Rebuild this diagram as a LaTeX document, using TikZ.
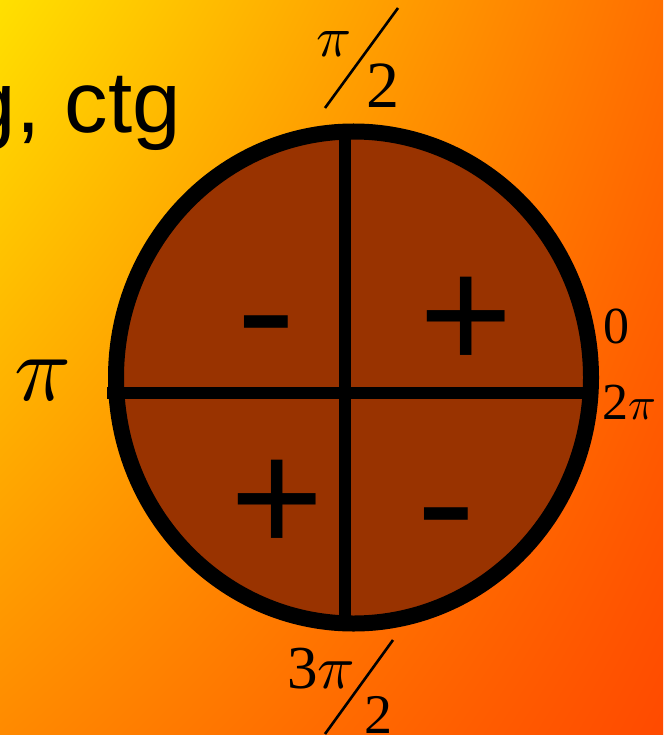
\documentclass[tikz,border=0pt]{standalone}
\usepackage{fontspec}
\usetikzlibrary{shadings}
\setmainfont{Liberation Sans}
\newfontfamily\tnr{Liberation Serif}
\definecolor{bgTL}{RGB}{255,224,0}
\definecolor{bgTR}{RGB}{255,111,0}
\definecolor{bgBL}{RGB}{255,138,0}
\definecolor{bgBR}{RGB}{255,74,0}
\definecolor{disk}{RGB}{153,51,0}
\tikzset{
  lbl/.style={inner sep=0pt, outer sep=0pt, anchor=base west, text=black},
  sgn/.style={inner sep=0pt, outer sep=0pt, anchor=base, text=black, font=\fontsize{160}{160}\selectfont},
  axis/.style={line width=12pt, black},
  fracbar/.style={line width=2.6pt, black}
}
\newcommand{\fs}[1]{\fontsize{#1}{#1}\selectfont}
\newcommand{\bigpi}[1]{\scalebox{#1}{\fontsize{10}{10}\selectfont$\pi$}}
\begin{document}
\begin{tikzpicture}[x=1pt,y=-1pt]
\useasboundingbox (0,0) rectangle (663,735);
\clip (0,0) rectangle (663,735);
\shade[upper left=bgTL, upper right=bgTR, lower left=bgBL, lower right=bgBR] (0,0) rectangle (663,735);
% title fragment
\node[lbl, font=\fs{87}] (title) at (-32,133) {g, ctg};
% disk
\draw[line width=16pt, fill=disk] (353.5,377.5) ellipse [x radius=237.5, y radius=246];
\coordinate (vt) at (345,130);
\coordinate (vb) at (345,625);
\coordinate (hl) at (107,392.5);
\coordinate (hr) at (590,392.5);
\draw[axis] (vt) -- (vb);
\draw[axis] (hl) -- (hr);
% signs
\node[sgn] (q1) at (466,369) {+};
\node[sgn] (q2) at (266,364) {\scalebox{1.12}[1]{-}};
\node[sgn] (q3) at (277,552.5) {+};
\node[sgn] (q4) at (446,556.5) {\scalebox{1.12}[1]{-}};
% top label pi/2
\node[lbl] (tpi) at (316,57) {\bigpi{5.8}};
\node[lbl, font=\tnr\fs{66}] (ttwo) at (366,108) {2};
\coordinate (ts1) at (398,8);
\coordinate (ts2) at (325,108);
\draw[fracbar] (ts1) -- (ts2);
% bottom label 3pi/2
\node[lbl, font=\tnr\fs{61}] (bthree) at (287,688) {3\bigpi{6.2}};
\node[lbl, font=\tnr\fs{56}] (btwo) at (364,733) {2};
\coordinate (bs1) at (393,640);
\coordinate (bs2) at (325,734);
\draw[fracbar] (bs1) -- (bs2);
% left pi
\node[lbl] (lpi) at (14,400) {\bigpi{9.4}};
% right 0 and 2pi
\node[lbl, font=\tnr\fs{52}] (rzero) at (603,343) {0};
\node[lbl, font=\tnr\fs{52}] (rtwopi) at (602,419) {2\bigpi{4.6}};
\end{tikzpicture}
\end{document}
